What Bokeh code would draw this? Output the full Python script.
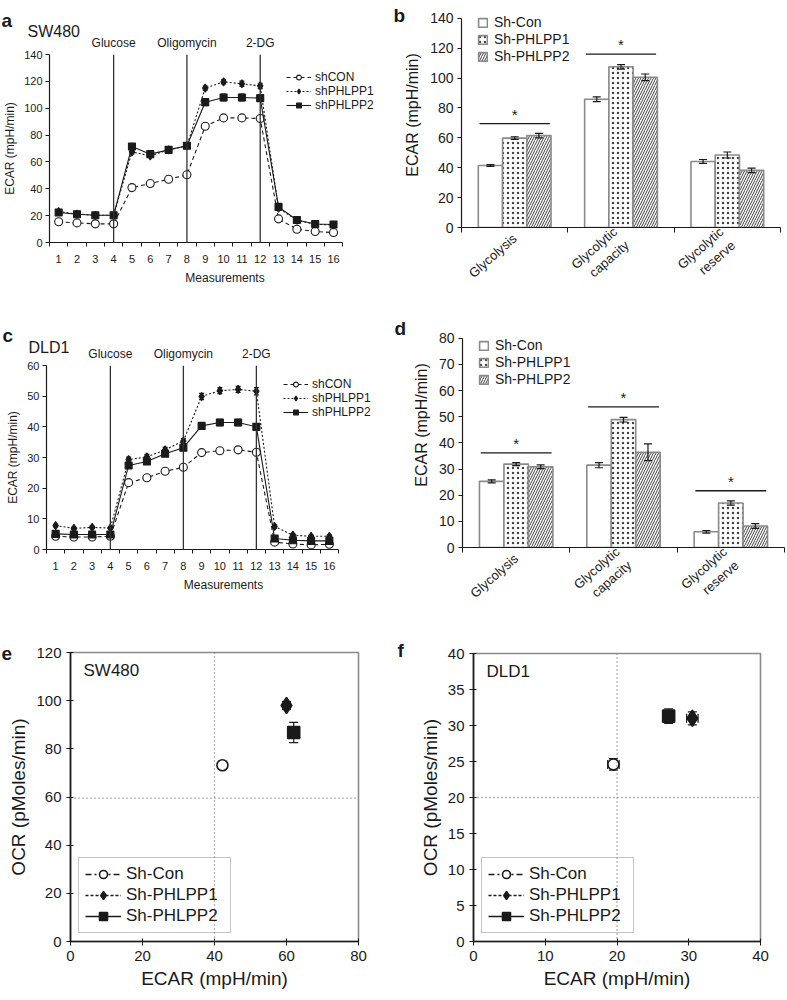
import math
from bokeh.plotting import figure
from bokeh.models import (FixedTicker, Span, Label, Legend, LegendItem, Whisker, LinearAxis,
                          ColumnDataSource, TeeHead, Range1d, GridBox)
from bokeh.core.properties import value
from bokeh.embed import file_html
from bokeh.resources import INLINE

FONT = "Liberation Sans"
INK = "#1a1a1a"
GRAY = "#8a8a8a"

# ---------------- data ----------------
measurements = list(range(1, 17))
event_positions = [4, 8, 12]
event_names = ["Glucose", "Oligomycin", "2-DG"]
line_series = ["shCON", "shPHLPP1", "shPHLPP2"]

sw480_con = [15.4, 14.6, 13.9, 13.9, 40.9, 43.9, 47.1, 50.4, 86.6, 92.8, 92.8, 92.3, 17.6, 9.9, 8.2, 7.4]
sw480_p1 = [23.0, 21.2, 20.3, 20.3, 67.5, 64.5, 69.0, 72.0, 115.0, 119.6, 118.2, 116.6, 25.5, 16.6, 13.6, 13.0]
sw480_p2 = [22.3, 21.0, 20.3, 20.3, 71.5, 65.8, 69.0, 72.0, 104.5, 108.0, 108.0, 107.5, 26.5, 16.8, 13.8, 13.4]
sw480_con_err = [0.5] * 16
sw480_p1_err = [1.0, 0.5, 0.5, 0.5, 1.5, 1.0, 1.0, 1.0, 1.5, 1.5, 2.0, 2.0, 1.0, 0.5, 0.5, 0.5]
sw480_p2_err = [1.0, 0.5, 0.5, 0.5, 1.5, 1.0, 1.0, 1.0, 2.5, 2.5, 2.5, 2.5, 1.0, 0.5, 0.5, 0.5]

dld1_con = [4.3, 4.1, 4.1, 4.3, 21.8, 23.4, 25.5, 26.8, 31.6, 32.2, 32.5, 31.7, 2.4, 1.8, 1.5, 1.7]
dld1_p1 = [7.8, 6.9, 7.2, 7.0, 29.3, 30.2, 32.5, 35.4, 49.9, 51.8, 52.2, 51.6, 7.5, 4.7, 4.3, 4.3]
dld1_p2 = [5.1, 4.9, 4.9, 4.9, 27.4, 28.7, 31.2, 33.2, 40.3, 41.4, 41.4, 40.0, 3.6, 3.0, 2.8, 2.8]
dld1_con_err = [0.3] * 16
dld1_p1_err = [0.4, 0.4, 0.4, 0.4, 0.8, 0.8, 0.8, 0.8, 1.0, 1.0, 1.0, 1.2, 0.5, 0.4, 0.4, 0.4]
dld1_p2_err = [0.4, 0.4, 0.4, 0.4, 0.8, 0.8, 0.8, 0.8, 1.0, 1.0, 1.0, 1.0, 0.4, 0.4, 0.4, 0.4]

bar_categories = ["Glycolysis", "Glycolytic\ncapacity", "Glycolytic\nreserve"]
bar_series = ["Sh-Con", "Sh-PHLPP1", "Sh-PHLPP2"]

b_con = [41.5, 85.8, 44.2]
b_p1 = [59.8, 107.5, 48.5]
b_p2 = [61.5, 100.5, 38.2]
b_con_err = [0.6, 1.6, 1.3]
b_p1_err = [0.9, 1.5, 2.0]
b_p2_err = [1.5, 2.2, 1.5]
b_sig = [69.5, 116.0, None]

d_con = [25.3, 31.5, 6.0]
d_p1 = [31.9, 48.9, 17.0]
d_p2 = [30.9, 36.4, 8.2]
d_con_err = [0.6, 1.0, 0.5]
d_p1_err = [0.6, 0.9, 0.8]
d_p2_err = [0.7, 3.2, 0.9]
d_sig = [36.2, 53.8, 21.7]

scatter_series = ["Sh-Con", "Sh-PHLPP1", "Sh-PHLPP2"]
e_ecar = [42.2, 60.0, 62.0]
e_ocr = [73.2, 98.0, 86.8]
e_ecar_err = [0.9, 1.0, 0.5]
e_ocr_err = [1.6, 1.6, 4.2]
e_ref = (40, 59.5)

f_ecar = [19.5, 30.5, 27.2]
f_ocr = [24.6, 31.0, 31.3]
f_ecar_err = [0.8, 0.8, 0.8]
f_ocr_err = [0.8, 0.9, 1.0]
f_ref = (20, 20)

panel_letters = ["a", "b", "c", "d", "e", "f"]
header_titles = ["SW480", "DLD1"]

PAGE_W, PAGE_H = 786, 998


# ---------------- helpers ----------------
def geom(fig_box, frame_box):
    fx0, fy0, fx1, fy1 = fig_box
    x0, y0, x1, y1 = frame_box
    return dict(width=fx1 - fx0, height=fy1 - fy0,
                min_border_left=x0 - fx0, min_border_right=fx1 - x1,
                min_border_top=y0 - fy0, min_border_bottom=fy1 - y1)


def new_fig(fig_box, frame_box, x_range, y_range):
    return figure(x_range=x_range, y_range=y_range, output_backend="svg", toolbar_location=None,
                  frame_align=False, **geom(fig_box, frame_box))


def style_axes(p, tick_size, label_size):
    for ax in (p.xaxis[0], p.yaxis[0]):
        ax.axis_line_color = INK
        ax.axis_line_width = 1.2
        ax.major_tick_line_color = INK
        ax.minor_tick_line_color = None
        ax.major_label_text_font = FONT
        ax.major_label_text_font_size = tick_size
        ax.major_label_text_color = INK
        ax.axis_label_text_font = FONT
        ax.axis_label_text_font_size = label_size
        ax.axis_label_text_font_style = "normal"
        ax.axis_label_text_color = INK
    p.xgrid.visible = False
    p.ygrid.visible = False


def whisker(p, base, lo, hi, dim, head, level):
    src = ColumnDataSource(dict(base=base, lo=lo, hi=hi))
    w = Whisker(source=src, base="base", lower="lo", upper="hi", dimension=dim,
                line_color=INK, line_width=1.2,
                upper_head=TeeHead(size=head, line_color=INK, line_width=1.2),
                lower_head=TeeHead(size=head, line_color=INK, line_width=1.2), level=level)
    p.add_layout(w)


def line_panel(fig_box, frame_box, series, errs, ymax, ystep):
    # the frame runs on to the right edge of the panel so the legend is not clipped;
    # the x axis itself is bounded to the measurement range
    x0, y0, x1, y1 = frame_box
    x_lo, x_hi = measurements[0] - 0.5, measurements[-1] + 0.5
    fig_right = fig_box[2]
    px_per = (x1 - x0) / (x_hi - x_lo)
    x_end = x_lo + (fig_right - x0) / px_per
    p = new_fig(fig_box, (x0, y0, fig_right, y1), Range1d(x_lo, x_end), Range1d(0, ymax))
    p.outline_line_color = None
    style_axes(p, "11px", "12px")
    p.xaxis.ticker = FixedTicker(ticks=measurements,
                                 minor_ticks=[m - 0.5 for m in measurements] + [x_hi])
    p.xaxis.bounds = (x_lo, x_hi)
    p.xaxis.major_tick_line_color = None
    p.xaxis.minor_tick_line_color = INK
    p.xaxis.minor_tick_out = 4
    p.xaxis.minor_tick_in = 0
    p.xaxis.major_label_standoff = 6
    p.xaxis.axis_label = "Measurements"
    p.xaxis.axis_label_standoff = 5
    p.yaxis.ticker = FixedTicker(ticks=list(range(0, ymax + 1, ystep)))
    p.yaxis.major_tick_out = 4
    p.yaxis.major_tick_in = 0
    p.yaxis.major_label_standoff = 3
    p.yaxis.axis_label = "ECAR (mpH/min)"
    p.yaxis.axis_label_standoff = 4

    ev_axis = LinearAxis(ticker=FixedTicker(ticks=event_positions),
                         major_label_overrides={e: n for e, n in zip(event_positions, event_names)},
                         axis_line_color=None, major_tick_line_color=None, minor_tick_line_color=None,
                         major_tick_out=0, major_tick_in=0, major_label_standoff=5,
                         major_label_text_font=FONT, major_label_text_font_size="12px",
                         major_label_text_color=INK)
    p.add_layout(ev_axis, "above")
    for ev in event_positions:
        p.add_layout(Span(location=ev, dimension="height", line_color="#333333", line_width=1.3))

    dashes = ["4 3", "2 2", "solid"]
    markers = [("circle", 8, "white"), ("diamond", 8, INK), ("square", 7, INK)]
    items = []
    for vals, err, dash, (mk, sz, fc), name in zip(series, errs, dashes, markers, line_series):
        whisker(p, measurements, [v - e for v, e in zip(vals, err)], [v + e for v, e in zip(vals, err)],
                "height", 5, "underlay")
        lr = p.line(measurements, vals, line_color=INK, line_width=1.1, line_dash=dash)
        sr = p.scatter(measurements, vals, marker=mk, size=sz, fill_color=fc, line_color=INK, line_width=1.1)
        items.append(LegendItem(label=name, renderers=[lr, sr]))
    leg = Legend(items=items, location=(237, 130), glyph_width=25, glyph_height=12, label_height=14,
                 spacing=0, padding=0, margin=0, label_standoff=4, label_text_font=FONT,
                 label_text_font_size="12px", label_text_color=INK, border_line_color=None,
                 background_fill_alpha=0)
    p.add_layout(leg)
    return p


def bar_panel(fig_box, frame_box, series, errs, sig, ymax, ystep):
    # frame extended upward (axis bounded to 0..ymax) so the legend near the top is not clipped
    x0, y0, x1, y1 = frame_box
    top_ext = fig_box[1] + 2
    px_per = (y1 - y0) / ymax
    y_end = ymax + (y0 - top_ext) / px_per
    p = new_fig(fig_box, (x0, top_ext, x1, y1), Range1d(0.5, 3.5), Range1d(0, y_end))
    p.outline_line_color = None
    style_axes(p, "14px", "16px")
    groups = list(range(1, len(bar_categories) + 1))
    p.xaxis.ticker = FixedTicker(ticks=groups, minor_ticks=[g - 0.5 for g in groups] + [groups[-1] + 0.5])
    p.xaxis.major_label_overrides = {g: c for g, c in zip(groups, bar_categories)}
    p.xaxis.major_label_orientation = 0.72
    p.xaxis.major_tick_line_color = None
    p.xaxis.minor_tick_line_color = INK
    p.xaxis.minor_tick_out = 5
    p.xaxis.minor_tick_in = 0
    p.xaxis.major_label_standoff = 3
    p.xaxis.major_label_text_font_size = "13px"
    p.yaxis.ticker = FixedTicker(ticks=list(range(0, ymax + 1, ystep)))
    p.yaxis.bounds = (0, ymax)
    p.yaxis.major_tick_out = 4
    p.yaxis.major_tick_in = 0
    p.yaxis.major_label_standoff = 4
    p.yaxis.axis_label = "ECAR (mpH/min)"
    p.yaxis.axis_label_standoff = 6

    width = 0.228
    offsets = [-width, 0.0, width]
    fills = [dict(),
             dict(hatch_pattern="dot", hatch_scale=5, hatch_weight=0.4, hatch_color="#444444"),
             dict(hatch_pattern="right_diagonal_line", hatch_scale=5, hatch_weight=0.9, hatch_color="#2a2a2a")]
    items = []
    for vals, err, off, fk, name in zip(series, errs, offsets, fills, bar_series):
        xs = [g + off for g in groups]
        r = p.vbar(x=xs, top=vals, width=width, fill_color="white", line_color=GRAY, line_width=1.6, **fk)
        whisker(p, xs, [v - e for v, e in zip(vals, err)], [v + e for v, e in zip(vals, err)],
                "height", 8, "annotation")
        items.append(LegendItem(label=name, renderers=[r]))
    for g, s in zip(groups, sig):
        if s is None:
            continue
        p.segment(x0=[g - 0.33], x1=[g + 0.33], y0=[s], y1=[s], line_color=INK, line_width=1.3)
        p.text(x=[g], y=[s], text=["*"], text_align="center", text_baseline="bottom", y_offset=-1,
               text_font=value(FONT), text_font_size="15px", text_color=INK)
    fh = y1 - y0
    leg = Legend(items=items, location=(16, fh - 50), glyph_width=11, glyph_height=11, label_height=16,
                 spacing=1, padding=0, margin=0, label_standoff=6, label_text_font=FONT,
                 label_text_font_size="14px", label_text_color=INK, border_line_color=None,
                 background_fill_alpha=0)
    p.add_layout(leg)
    return p


def scatter_panel(fig_box, frame_box, xs, ys, xe, ye, xmax, xstep, ymax, ystep, ref, cell):
    p = new_fig(fig_box, frame_box, Range1d(0, xmax), Range1d(0, ymax))
    p.outline_line_color = GRAY
    p.outline_line_width = 1.6
    style_axes(p, "15px", "19px")
    p.xaxis.ticker = FixedTicker(ticks=list(range(0, xmax + 1, xstep)))
    p.yaxis.ticker = FixedTicker(ticks=list(range(0, ymax + 1, ystep)))
    for ax in (p.xaxis[0], p.yaxis[0]):
        ax.major_tick_out = 4
        ax.major_tick_in = 3
        ax.major_label_standoff = 5
        ax.axis_label_standoff = 4
        ax.axis_line_width = 1.6
    p.xaxis.axis_label = "ECAR (mpH/min)"
    p.yaxis.axis_label = "OCR (pMoles/min)"

    p.add_layout(Span(location=ref[0], dimension="height", line_color="#707070", line_width=1.3,
                      line_dash="1 3"))
    p.add_layout(Span(location=ref[1], dimension="width", line_color="#707070", line_width=1.3,
                      line_dash="1 3"))

    dashes = ["6 3 2 3", "3 2", "solid"]
    markers = [("circle", 11, "white"), ("diamond", 16, INK), ("square", 12, INK)]
    items = []
    for i, name in enumerate(scatter_series):
        whisker(p, [xs[i]], [ys[i] - ye[i]], [ys[i] + ye[i]], "height", 9, "underlay")
        whisker(p, [ys[i]], [xs[i] - xe[i]], [xs[i] + xe[i]], "width", 9, "underlay")
        mk, sz, fc = markers[i]
        lr = p.line([xs[i]], [ys[i]], line_color=INK, line_width=1.5, line_dash=dashes[i])
        sr = p.scatter([xs[i]], [ys[i]], marker=mk, size=sz, fill_color=fc, line_color=INK, line_width=1.6)
        items.append(LegendItem(label=name, renderers=[lr, sr]))
    leg = Legend(items=items, location="bottom_left", glyph_width=36, glyph_height=20, label_height=20,
                 label_width=98, spacing=1, padding=6, margin=8, label_standoff=5, label_text_font=FONT,
                 label_text_font_size="17px", label_text_color=INK, border_line_color=GRAY,
                 border_line_width=1.6, background_fill_alpha=0)
    p.add_layout(leg)
    fh = frame_box[3] - frame_box[1]
    p.add_layout(Label(x=13, y=fh - 27, x_units="screen", y_units="screen", text=cell,
                       text_font=FONT, text_font_size="17px", text_color=INK))
    return p


# ---------------- panels (boxes in window pixels) ----------------
pa = line_panel((0, 0, 400, 300), (48, 54, 342, 242),
                [sw480_con, sw480_p1, sw480_p2], [sw480_con_err, sw480_p1_err, sw480_p2_err], 140, 20)
pb = bar_panel((400, 0, PAGE_W, 300), (461, 18, 780, 231),
               [b_con, b_p1, b_p2], [b_con_err, b_p1_err, b_p2_err], b_sig, 140, 20)
pc = line_panel((0, 300, 400, 620), (46, 365, 338, 549),
                [dld1_con, dld1_p1, dld1_p2], [dld1_con_err, dld1_p1_err, dld1_p2_err], 60, 10)
pd = bar_panel((400, 300, PAGE_W, 620), (462, 338, 784, 548),
               [d_con, d_p1, d_p2], [d_con_err, d_p1_err, d_p2_err], d_sig, 80, 10)
pe = scatter_panel((0, 620, 400, PAGE_H), (70, 652, 358, 941), e_ecar, e_ocr, e_ecar_err, e_ocr_err,
                   80, 20, 120, 20, e_ref, "SW480")
pf = scatter_panel((400, 620, PAGE_W, PAGE_H), (473, 653, 760, 941), f_ecar, f_ocr, f_ecar_err, f_ocr_err,
                   40, 10, 40, 5, f_ref, "DLD1")

# transparent overlay carrying the panel letters and the line-chart titles (window pixel coordinates)
overlay = figure(width=PAGE_W, height=PAGE_H, x_range=Range1d(0, PAGE_W), y_range=Range1d(PAGE_H, 0),
                 x_axis_type=None, y_axis_type=None, output_backend="svg", toolbar_location=None,
                 min_border=0, background_fill_color=None, border_fill_color=None,
                 outline_line_color=None, frame_align=False)
overlay.grid.visible = False
overlay.text(x=[1, 393, 2, 394, 1, 397], y=[20, 15, 335, 328, 653, 650], text=panel_letters,
             text_font=value(FONT), text_font_size="19px", text_font_style="bold",
             text_color=INK, text_baseline="alphabetic")
overlay.text(x=[27, 28], y=[31, 347], text=header_titles, text_font=value(FONT),
             text_font_size="16px", text_color=INK, text_baseline="alphabetic")

layout = GridBox(children=[(pa, 0, 0), (pb, 0, 1), (pc, 1, 0), (pd, 1, 1), (pe, 2, 0), (pf, 2, 1),
                           (overlay, 0, 0, 3, 2)], spacing=0)
open("out.html", "w").write(file_html(layout, INLINE))
